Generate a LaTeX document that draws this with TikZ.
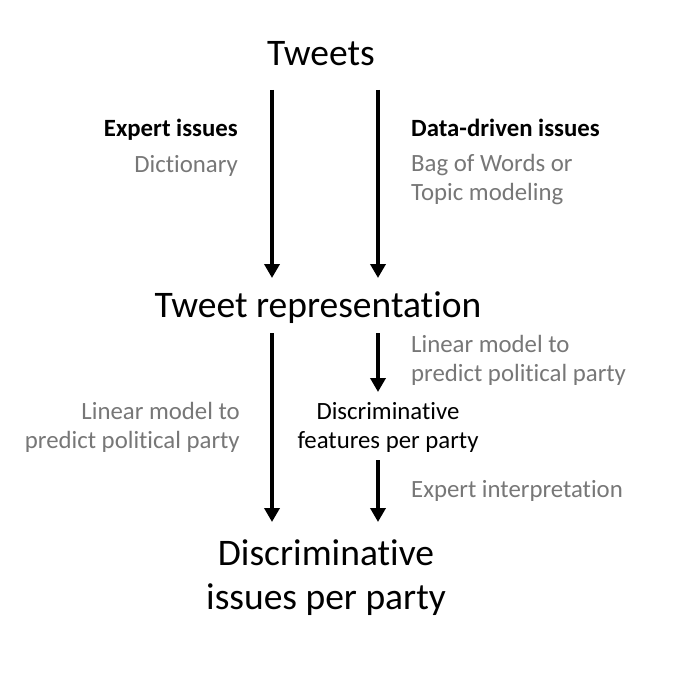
\documentclass[tikz,border=0pt]{standalone}
\usepackage{fontspec}
\setmainfont{Carlito}[RawFeature=-liga]
\usetikzlibrary{arrows.meta}
\definecolor{txtgray}{HTML}{777777}
\begin{document}
\begin{tikzpicture}[x=1pt,y=-1pt,
  big/.style={font=\fontsize{37.5}{44}\selectfont, inner sep=0pt, align=center},
  small/.style={font=\fontsize{24.8}{29}\selectfont, inner sep=0pt},
  grey/.style={small, text=txtgray},
  flow/.style={line width=4pt, -{Triangle[width=15pt,length=14pt]}}]
\useasboundingbox (0,0) rectangle (680,674);
\fill[white] (0,0) rectangle (680,674);

\node[big] (tweets) at (321,54) {Tweets};
\node[big] (rep) at (318,308) {Tweet representation};
\node[big] (disc) at (326,578) {Discriminative\\issues per party};

\node[small, font=\fontsize{24.8}{29}\selectfont\bfseries, anchor=base east] (expert) at (238,137) {Expert issues};
\node[grey, anchor=east] (dict) at (238,166) {Dictionary};
\node[small, font=\fontsize{24.8}{29}\selectfont\bfseries, anchor=base west] (data) at (411,137) {Data-driven issues};
\node[grey, anchor=west, align=left] (bow) at (411,180) {Bag of Words or\\Topic modeling};

\node[grey, anchor=west, align=left] (lin1) at (411,360) {Linear model to\\predict political party};
\node[grey, anchor=east, align=right] (lin2) at (240,427) {Linear model to\\predict political party};
\node[small, align=center] (feat) at (388,427) {Discriminative\\features per party};
\node[grey, anchor=west] (interp) at (411,491) {Expert interpretation};

\coordinate (a1s) at (272,90);  \coordinate (a1e) at (272,278);
\coordinate (a2s) at (378,90);  \coordinate (a2e) at (378,278);
\coordinate (a3s) at (272,333); \coordinate (a3e) at (272,522);
\coordinate (a4s) at (378,333); \coordinate (a4e) at (378,392);
\coordinate (a5s) at (378,460); \coordinate (a5e) at (378,522);

\draw[flow] (a1s) -- (a1e);
\draw[flow] (a2s) -- (a2e);
\draw[flow] (a3s) -- (a3e);
\draw[flow] (a4s) -- (a4e);
\draw[flow] (a5s) -- (a5e);
\end{tikzpicture}
\end{document}
